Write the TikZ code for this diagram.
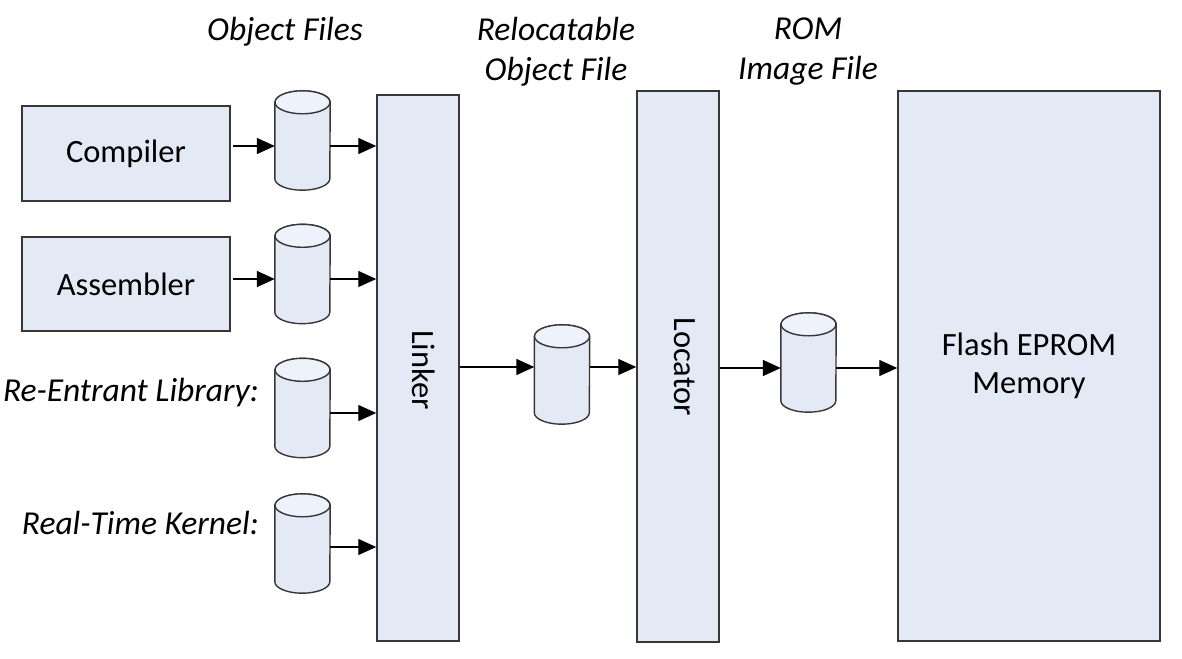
\documentclass[tikz,border=0pt]{standalone}
\usepackage{fontspec}
\setmainfont{Carlito}
\usetikzlibrary{arrows.meta}
\definecolor{boxfill}{RGB}{227,234,246}
\definecolor{topfill}{RGB}{238,242,250}
\definecolor{edge}{RGB}{55,55,55}
\tikzset{
  blk/.style={draw=edge, line width=1.5pt, fill=boxfill, inner sep=0pt, font=\fontsize{32.5}{38}\selectfont},
  cylbox/.style={inner sep=0pt, minimum width=55pt, minimum height=99pt},
  cylline/.style={draw=edge, line width=1.4pt},
  arr/.style={line width=1.4pt, -{Triangle[length=18pt,width=16pt]}},
  lbl/.style={font=\fontsize{33.5}{40}\selectfont\itshape, align=center, inner sep=0pt},
  vtxt/.style={rotate=-90, font=\fontsize{32.5}{38}\selectfont, inner sep=0pt}
}
\newcommand\mycyl[3]{%
  \node[cylbox] (#1) at (#2,#3) {};
  \draw[cylline, fill=boxfill] ([yshift=-11.5pt]#1.north west) -- ([yshift=11.5pt]#1.south west)
    arc[start angle=180, end angle=360, x radius=27.5pt, y radius=11.5pt]
    -- ([yshift=-11.5pt]#1.north east)
    arc[start angle=0, end angle=180, x radius=27.5pt, y radius=11.5pt] -- cycle;
  \draw[cylline, fill=topfill] ([yshift=-11.5pt]#1.north) ellipse[x radius=27.5pt, y radius=11.5pt];
}
\begin{document}
\begin{tikzpicture}[x=1pt, y=-1pt]
\useasboundingbox (0,0) rectangle (1182,658);

% boxes
\node[blk, minimum width=208pt, minimum height=95pt] (compiler) at (126,153.5) {Compiler};
\node[blk, minimum width=208pt, minimum height=94pt] (assembler) at (126,284) {Assembler};
\node[blk, minimum width=82pt, minimum height=546pt] (linker) at (418,368) {};
\node[blk, minimum width=82pt, minimum height=551pt] (locator) at (678,366.5) {};
\node[blk, minimum width=262pt, minimum height=550pt, align=center] (flash) at (1029,366) {Flash EPROM\\Memory};
\node[vtxt] (linkertext) at (424,370) {Linker};
\node[vtxt] (locatortext) at (685,367) {Locator};

% cylinders
\mycyl{c1}{302.5}{140.5}
\mycyl{c2}{302.5}{274}
\mycyl{c3}{302.5}{408}
\mycyl{c4}{302.5}{543.5}
\mycyl{c5}{562}{374.5}
\mycyl{c6}{808.5}{362.5}

% labels
\node[lbl] (objfiles) at (285,32) {Object Files};
\node[lbl] (relobj) at (556,52) {Relocatable\\Object File};
\node[lbl] (romimg) at (808,52) {ROM\\Image File};
\node[lbl, anchor=east] (reentrant) at (259,393) {Re-Entrant Library:};
\node[lbl, anchor=east] (rtkernel) at (259,523) {Real-Time Kernel:};

% coordinates for connector heights
\coordinate (y1) at (0,146);
\coordinate (y2) at (0,279);
\coordinate (y3) at (0,413);
\coordinate (y4) at (0,547);
\coordinate (y5) at (0,367);
\coordinate (y6) at (0,368);

% connectors
\draw[arr] ([xshift=2pt]compiler.east |- y1) -- (c1.west |- y1);
\draw[arr] (c1.east |- y1) -- (linker.west |- y1);
\draw[arr] ([xshift=2pt]assembler.east |- y2) -- (c2.west |- y2);
\draw[arr] (c2.east |- y2) -- (linker.west |- y2);
\draw[arr] (c3.east |- y3) -- (linker.west |- y3);
\draw[arr] (c4.east |- y4) -- (linker.west |- y4);
\draw[arr] (linker.east |- y5) -- (c5.west |- y5);
\draw[arr] (c5.east |- y5) -- (locator.west |- y5);
\draw[arr] (locator.east |- y6) -- (c6.west |- y6);
\draw[arr] (c6.east |- y6) -- (flash.west |- y6);
\end{tikzpicture}
\end{document}
